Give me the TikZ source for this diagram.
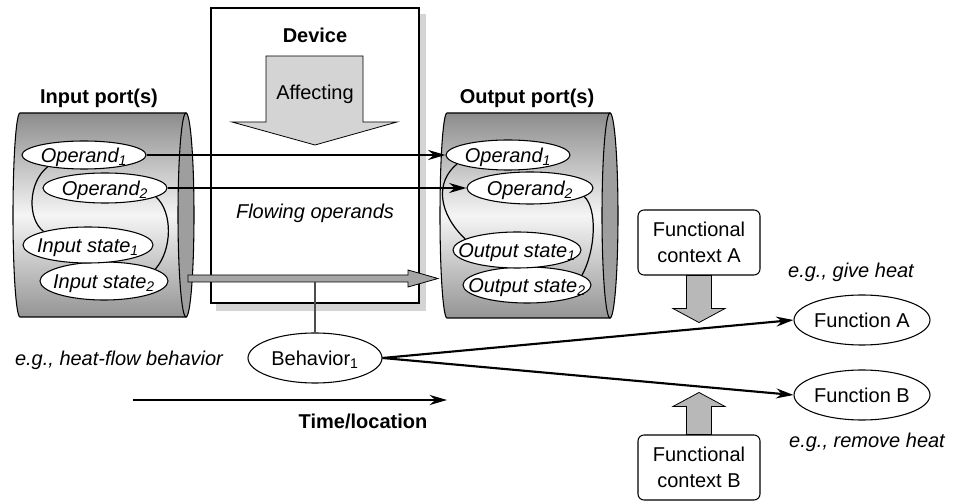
\documentclass[tikz,border=0pt]{standalone}
\usepackage{fontspec}
\setmainfont{Liberation Sans}
\usepackage{tikz}
\usetikzlibrary{shapes.geometric}
\usetikzlibrary{arrows.meta,calc}
\colorlet{capgray}{black!38}
\colorlet{bargray}{black!35}
\colorlet{blockgray}{black!28}
\colorlet{pale}{black!17}
% text kept out of the ellipse size, so the ovals stay as drawn
\newcommand{\inell}[1]{\raisebox{-.36em}[0pt][0pt]{\makebox[0pt]{#1}}}

\begin{document}
\fontsize{15}{19}\selectfont
\begin{tikzpicture}[-,x=0.75pt,y=-0.75pt,>={Stealth[length=13pt,width=7.5pt]}]
\tikzstyle{item}=[ellipse,draw=black,fill=white,line width=0.8pt,inner sep=0pt,font=\itshape]
\tikzstyle{oval}=[ellipse,draw=black,fill=white,line width=0.8pt,inner sep=0pt,minimum height=37.5pt]
\tikzstyle{context}=[draw=black,fill=white,rounded corners=4.5pt,line width=0.8pt,minimum width=91.5pt,minimum height=48.75pt,align=center]
\tikzstyle{flow}=[->,line width=1.6pt]
\tikzstyle{block}=[draw=black,line width=0.6pt]
\tikzstyle{heading}=[font=\bfseries]
\tikzstyle{note}=[font=\itshape]
\tikzstyle{portbody}=[top color=black!45,bottom color=black!42,middle color=black!4]
\useasboundingbox (0,0) rectangle (954,502);

% device with its shadow
\node [draw=black,fill=white,line width=1.3pt,minimum width=156pt,minimum height=221.25pt] (device) at(315,155.5) {};
\fill [pale] ([shift={(6,7)}]device.north west) rectangle ([shift={(6,7)}]device.south east);
\node [draw=black,fill=white,line width=1.3pt,minimum width=156pt,minimum height=221.25pt] at(315,155.5) {};
\node [heading] (devlbl) at(315,35) {Device};
\draw [block,fill=pale] (266,56) -- (363,56) -- (363,122) -- (397,122) -- (315,145) -- (232,122) -- (266,122) -- cycle;
\node (affect) at(315,94) {Affecting};
\node [note] (flowlbl) at(315,213) {Flowing operands};

% input port cylinder
\shade [portbody] (20,113) -- (186,113) -- (186,317) -- (20,317) arc[start angle=90,end angle=270,x radius=7,y radius=102] -- cycle;
\draw [line width=0.8pt] (20,113) -- (186,113) -- (186,317) -- (20,317) arc[start angle=90,end angle=270,x radius=7,y radius=102] -- cycle;
\draw [fill=capgray,line width=0.8pt] (186,215) ellipse [x radius=8,y radius=102];
\node [heading] (inlbl) at(99,98) {Input port(s)};

% output port cylinder
\shade [portbody] (447,113) -- (610,113) -- (610,318) -- (447,318) arc[start angle=90,end angle=270,x radius=7,y radius=102.5] -- cycle;
\draw [line width=0.8pt] (447,113) -- (610,113) -- (610,318) -- (447,318) arc[start angle=90,end angle=270,x radius=7,y radius=102.5] -- cycle;
\draw [fill=capgray,line width=0.8pt] (610,215.5) ellipse [x radius=8,y radius=102.5];
\node [heading] (outlbl) at(527,98) {Output port(s)};

% operands and states
\node [item,minimum width=93pt,minimum height=22.5pt] (in2) at(105,188) {\inell{Operand\textsubscript{2}}};
\node [item,minimum width=93pt,minimum height=21pt] (in1) at(84,155) {\inell{Operand\textsubscript{1}}};
\node [item,minimum width=96pt,minimum height=28.5pt] (is2) at(104,281) {\inell{Input state\textsubscript{2}}};
\node [item,minimum width=97.5pt,minimum height=27pt] (is1) at(88,245) {\inell{Input state\textsubscript{1}}};

\node [item,minimum width=94.5pt,minimum height=24pt] (out2) at(530,188) {\inell{Operand\textsubscript{2}}};
\node [item,minimum width=93pt,minimum height=22.5pt] (out1) at(508,155) {\inell{Operand\textsubscript{1}}};
\node [item,minimum width=96pt,minimum height=27pt] (os2) at(527,285) {\inell{Output state\textsubscript{2}}};
\node [item,minimum width=96pt,minimum height=27pt] (os1) at(517,250) {\inell{Output state\textsubscript{1}}};

\draw [line width=0.9pt] (in1.198) .. controls +(-20,16) and +(-16,-12) .. (is1.163);
\draw [line width=0.9pt] (in2.350) .. controls +(17,15) and +(17,-19) .. (is2.13);
\draw [line width=0.9pt] (out1.190) .. controls +(-22,18) and +(-27,-26) .. (os1.168);
\draw [line width=0.9pt] (out2.351) .. controls +(13,12) and +(14,-26) .. (os2.10);

\path [flow] (in1) edge (out1);
\path [flow] (in2) edge (out2);

% flow through the device
\coordinate (gin) at(188,278.5);
\coordinate (gout) at(438,278.5);
\coordinate (gmid) at(315,282);
\draw [block,fill=bargray] ($(gin)+(0,-3.5)$) -- ($(gout)+(-30,-3.5)$) -- ($(gout)+(-30,-8.5)$) -- (gout)
  -- ($(gout)+(-30,8.5)$) -- ($(gout)+(-30,3.5)$) -- ($(gin)+(0,3.5)$) -- cycle;

% behavior and functions
\node [oval,minimum width=100.5pt] (beh) at(315,358) {\inell{Behavior\textsubscript{1}}};
\draw [black!70,line width=0.8pt] (gmid) -- (beh.north);
\node [note] (behex) at(119,360) {e.g., heat-flow behavior};

\coordinate (t0) at(133,400);
\coordinate (t1) at(447,400);
\draw [flow] (t0) -- (t1);
\node [heading] (timelbl) at(363,421) {Time/location};

\node [oval,minimum width=102pt] (fA) at(862,320) {\inell{Function A}};
\node [oval,minimum width=102pt] (fB) at(862,395) {\inell{Function B}};
\node [note] (exA) at(851,272) {e.g., give heat};
\node [note] (exB) at(867,442) {e.g., remove heat};
\draw [flow] (beh.east) -- (fA.west);
\draw [flow] (beh.east) -- (fB.west);

\node [context] (ctxA) at(699,242.5) {Functional\\context A};
\node [context] (ctxB) at(699,467.5) {Functional\\context B};
\draw [block,fill=blockgray] ($(ctxA.south)+(-12.5,0)$) -- ++(0,33) -- ++(-13.5,0) -- ++(26,14) -- ++(26,-14) -- ++(-13.5,0) -- ++(0,-33) -- cycle;
\draw [block,fill=blockgray] ($(ctxB.north)+(-12.5,0)$) -- ++(0,-28) -- ++(-13.5,0) -- ++(26,-14) -- ++(26,14) -- ++(-13.5,0) -- ++(0,28) -- cycle;
\end{tikzpicture}
\end{document}
